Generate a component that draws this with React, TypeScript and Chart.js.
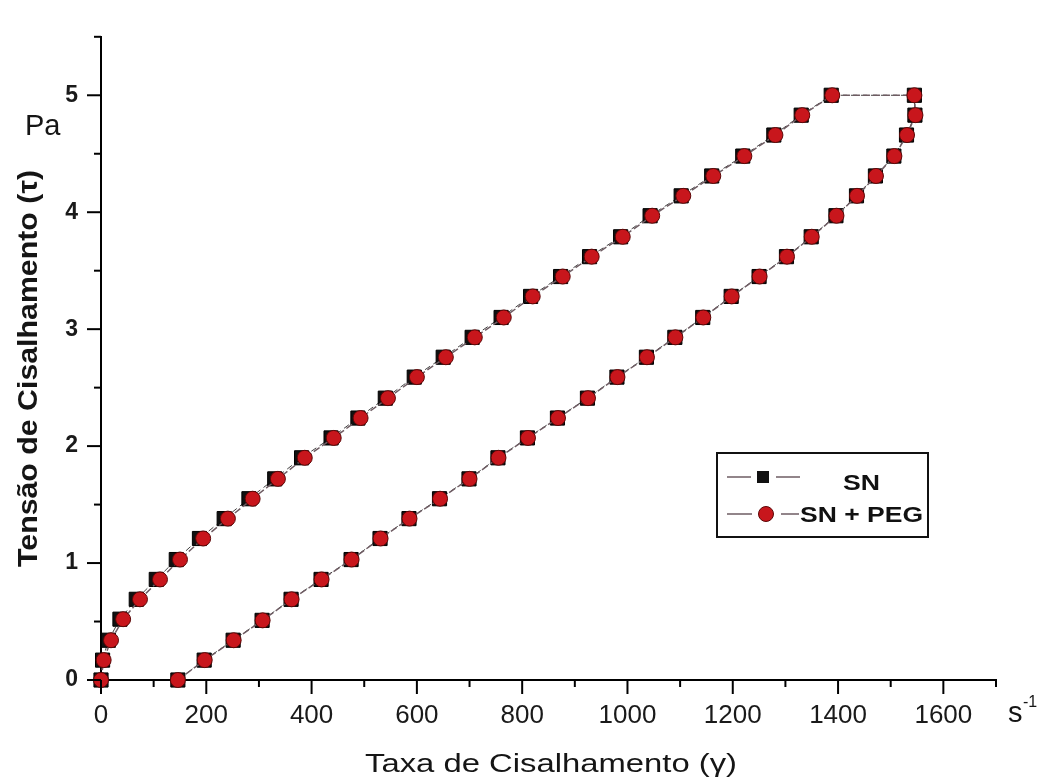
import React, { useEffect, useRef } from 'react';
import { Chart, registerables } from 'chart.js';

Chart.register(...registerables);

// ---- data ----
// Shear stress levels (Pa), loading branch (up) and unloading branch (down)
const stressUp = [0, 0.17, 0.34, 0.52, 0.69, 0.86, 1.03, 1.21, 1.38, 1.55, 1.72, 1.9, 2.07, 2.24, 2.41, 2.59, 2.76, 2.93, 3.1, 3.28, 3.45, 3.62, 3.79, 3.97, 4.14, 4.31, 4.48, 4.66, 4.83, 5.0];
const stressDown = [5.0, 4.83, 4.66, 4.48, 4.31, 4.14, 3.97, 3.79, 3.62, 3.45, 3.28, 3.1, 2.93, 2.76, 2.59, 2.41, 2.24, 2.07, 1.9, 1.72, 1.55, 1.38, 1.21, 1.03, 0.86, 0.69, 0.51, 0.34, 0.17, 0];

// Shear rate (1/s) — SN + PEG
const pegRateUp = [0, 5, 19, 42, 74, 112, 150, 194, 241, 288, 336, 387, 442, 493, 545, 600, 655, 710, 765, 820, 877, 932, 991, 1047, 1106, 1163, 1222, 1281, 1332, 1389];
const pegRateDown = [1545, 1547, 1531, 1507, 1472, 1436, 1397, 1350, 1303, 1251, 1198, 1144, 1091, 1037, 981, 925, 868, 811, 755, 700, 644, 586, 531, 476, 419, 362, 307, 252, 197, 146];

// Shear rate (1/s) — SN
const snRateUp = [0, 3, 14, 36, 67, 105, 143, 187, 234, 281, 330, 381, 437, 488, 540, 595, 650, 705, 760, 816, 873, 928, 987, 1043, 1102, 1160, 1219, 1278, 1330, 1387];
const snRateDown = [1545, 1546, 1530, 1506, 1471, 1435, 1396, 1349, 1302, 1250, 1197, 1143, 1090, 1036, 980, 924, 867, 810, 754, 699, 643, 585, 530, 475, 418, 361, 306, 251, 196, 146];

// ticks
const xMajorTicks = [0, 200, 400, 600, 800, 1000, 1200, 1400, 1600];
const xMinorTicks = [100, 300, 500, 700, 900, 1100, 1300, 1500, 1700];
const yMajorTicks = [0, 1, 2, 3, 4, 5];
const yMinorTicks = [0.5, 1.5, 2.5, 3.5, 4.5, 5.5];

const seriesNames = ['SN', 'SN + PEG'];
const xTitle = 'Taxa de Cisalhamento (γ)';
const yTitle = 'Tensão de Cisalhamento (τ)';

const FONT = "'Liberation Sans', Arial, sans-serif";
const RED = '#c8161c';
const RED_EDGE = '#5c0606';
const LINE = '#6e5c63';

function loop(rUp: number[], sUp: number[], rDown: number[], sDown: number[]) {
  const pts: { x: number; y: number }[] = [];
  rUp.forEach((r, i) => pts.push({ x: r, y: sUp[i] }));
  rDown.forEach((r, i) => pts.push({ x: r, y: sDown[i] }));
  return pts;
}

function drawStretched(
  ctx: CanvasRenderingContext2D,
  text: string,
  x: number,
  y: number,
  font: string,
  targetW: number,
  align: CanvasTextAlign,
  rotate = 0
) {
  ctx.save();
  ctx.font = font;
  const w = ctx.measureText(text).width;
  ctx.translate(x, y);
  if (rotate) ctx.rotate(rotate);
  ctx.scale(targetW / w, 1);
  ctx.textAlign = align;
  ctx.textBaseline = 'alphabetic';
  ctx.fillText(text, 0, 0);
  ctx.restore();
}

const decorPlugin = {
  id: 'decor',
  afterDraw(chart: any) {
    const ctx: CanvasRenderingContext2D = chart.ctx;
    const xs = chart.scales.x;
    const ys = chart.scales.y;
    const { left, bottom } = chart.chartArea;
    ctx.save();
    ctx.strokeStyle = '#000';
    ctx.lineWidth = 2;
    ctx.lineCap = 'butt';
    const seg = (x1: number, y1: number, x2: number, y2: number) => {
      ctx.beginPath();
      ctx.moveTo(x1, y1);
      ctx.lineTo(x2, y2);
      ctx.stroke();
    };
    xMajorTicks.forEach((v) => {
      const p = xs.getPixelForValue(v);
      seg(p, bottom, p, bottom + 14);
    });
    xMinorTicks.forEach((v) => {
      const p = xs.getPixelForValue(v);
      seg(p, bottom, p, bottom + 7);
    });
    yMajorTicks.forEach((v) => {
      const p = ys.getPixelForValue(v);
      seg(left - 14, p, left, p);
    });
    yMinorTicks.forEach((v) => {
      const p = ys.getPixelForValue(v);
      seg(left - 7, p, left, p);
    });

    // axis titles
    ctx.fillStyle = '#151515';
    drawStretched(ctx, xTitle, 365, 772, `26px ${FONT}`, 372, 'left');
    drawStretched(ctx, yTitle, 37, 567, `bold 28px ${FONT}`, 397, 'left', -Math.PI / 2);

    // units
    ctx.font = `29px ${FONT}`;
    ctx.textAlign = 'left';
    ctx.textBaseline = 'alphabetic';
    ctx.fillText('Pa', 25, 135);
    ctx.fillText('s', 1008, 722);
    ctx.font = `16px ${FONT}`;
    ctx.fillText('-1', 1023, 707);

    // legend
    const bx = 717, by = 453, bw = 211, bh = 84;
    ctx.fillStyle = '#fff';
    ctx.fillRect(bx, by, bw, bh);
    ctx.strokeStyle = '#111';
    ctx.lineWidth = 2;
    ctx.strokeRect(bx, by, bw, bh);

    ctx.strokeStyle = LINE;
    ctx.lineWidth = 1.5;
    const r1 = 477, r2 = 514;
    seg(727, r1, 751, r1);
    seg(776, r1, 800, r1);
    ctx.fillStyle = '#111';
    ctx.fillRect(757, r1 - 6, 12, 12);
    seg(727, r2, 752, r2);
    seg(781, r2, 799, r2);
    ctx.beginPath();
    ctx.arc(766, r2, 7.5, 0, Math.PI * 2);
    ctx.fillStyle = RED;
    ctx.fill();
    ctx.strokeStyle = RED_EDGE;
    ctx.lineWidth = 1;
    ctx.stroke();

    ctx.fillStyle = '#111';
    drawStretched(ctx, seriesNames[0], 843, 490, `bold 22px ${FONT}`, 37, 'left');
    drawStretched(ctx, seriesNames[1], 800, 522, `bold 22px ${FONT}`, 123, 'left');
    ctx.restore();
  },
};

export default function App() {
  const canvasRef = useRef<HTMLCanvasElement | null>(null);

  useEffect(() => {
    document.body.style.margin = '0';
    const canvas = canvasRef.current;
    if (!canvas) return;
    const chart = new Chart(canvas, {
      type: 'scatter',
      data: {
        datasets: [
          {
            label: seriesNames[1],
            data: loop(pegRateUp, stressUp, pegRateDown, stressDown),
            showLine: true,
            borderColor: LINE,
            borderWidth: 1.5,
            borderDash: [7, 3],
            pointStyle: 'circle',
            pointRadius: 7.5,
            pointBackgroundColor: RED,
            pointBorderColor: RED_EDGE,
            pointBorderWidth: 1,
            clip: false,
          },
          {
            label: seriesNames[0],
            data: loop(snRateUp, stressUp, snRateDown, stressDown),
            showLine: true,
            borderColor: '#444',
            borderWidth: 1,
            borderDash: [6, 4],
            pointStyle: 'rect',
            pointRadius: 10,
            pointBackgroundColor: '#111',
            pointBorderColor: '#000',
            pointBorderWidth: 1,
            clip: false,
          },
        ],
      },
      options: {
        animation: false,
        responsive: true,
        maintainAspectRatio: false,
        layout: { padding: { top: 18, right: 42, left: 0, bottom: 0 } },
        plugins: {
          legend: { display: false },
          tooltip: { enabled: false },
          title: { display: false },
        },
        scales: {
          x: {
            type: 'linear',
            min: 0,
            max: 1700,
            grid: { display: false, drawTicks: false },
            border: { display: true, color: '#000', width: 2 },
            afterBuildTicks: (scale: any) => {
              scale.ticks = xMajorTicks.map((v) => ({ value: v }));
            },
            afterFit: (scale: any) => {
              scale.height = 102;
            },
            ticks: {
              padding: 20,
              color: '#1a1a1a',
              font: { family: FONT, size: 26 },
              maxRotation: 0,
              autoSkip: false,
              callback: (v: any) => String(v),
            },
          },
          y: {
            type: 'linear',
            min: 0,
            max: 5.5,
            grid: { display: false, drawTicks: false },
            border: { display: true, color: '#000', width: 2 },
            afterBuildTicks: (scale: any) => {
              scale.ticks = yMajorTicks.map((v) => ({ value: v }));
            },
            afterFit: (scale: any) => {
              scale.width = 101;
            },
            ticks: {
              padding: 23,
              color: '#1a1a1a',
              font: { family: FONT, size: 23, weight: 'bold' },
              autoSkip: false,
              callback: (v: any) => String(v),
            },
          },
        },
      },
      plugins: [decorPlugin],
    });
    return () => chart.destroy();
  }, []);

  return (
    <div style={{ position: 'relative', width: 1038, height: 782, background: '#fff' }}>
      <canvas ref={canvasRef} />
    </div>
  );
}
